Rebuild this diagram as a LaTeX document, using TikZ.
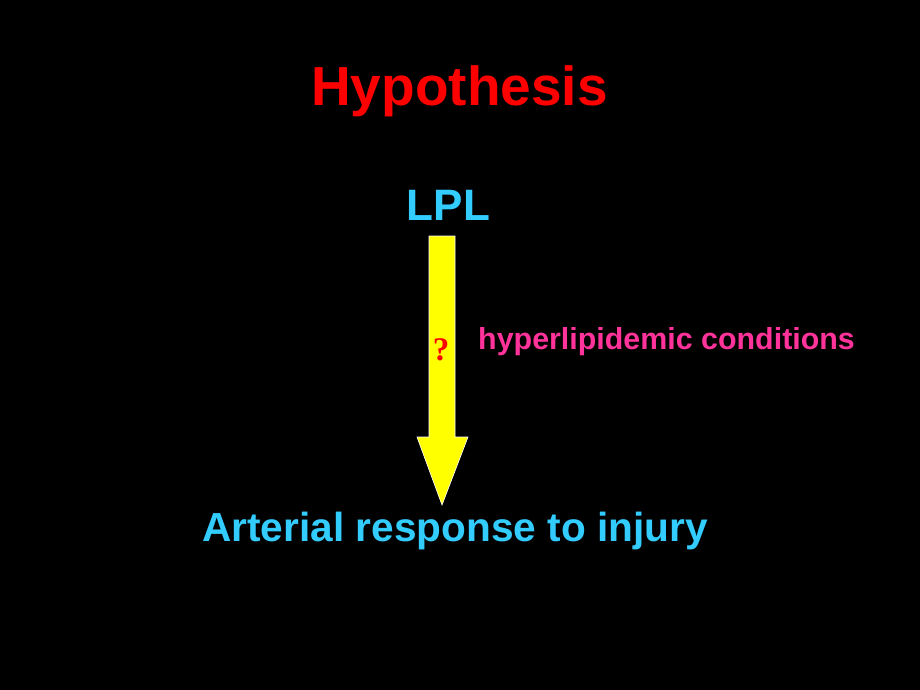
\documentclass[tikz,border=0pt]{standalone}
\usepackage{fontspec}
\setmainfont{Liberation Sans}
\newfontfamily\qfont{Liberation Serif}
\definecolor{titlered}{HTML}{FF0000}
\definecolor{lplcyan}{HTML}{33CCFF}
\definecolor{pinktext}{HTML}{FF3399}
\definecolor{arrowyellow}{HTML}{FFFF00}
\begin{document}
\begin{tikzpicture}[x=1pt,y=-1pt,
  lbl/.style={inner sep=0pt, font=\bfseries},
]
\fill[black] (0,0) rectangle (920,690);
\useasboundingbox (0,0) rectangle (920,690);
\node[lbl, text=titlered, anchor=base, font=\fontsize{55}{60}\selectfont\bfseries] (title) at (459.5,106) {Hypothesis};
\node[lbl, text=lplcyan, anchor=base, font=\fontsize{44}{50}\selectfont\bfseries] (lpl) at (448.5,220) {LPL};
\node[lbl, text=lplcyan, anchor=base, font=\fontsize{40.6}{46}\selectfont\bfseries] (resp) at (455,541) {Arterial response to injury};
\draw[white, line width=0.6pt, fill=arrowyellow]
  (429,236) -- (455,236) -- (455,437) -- (468,437) -- (442,505) -- (417,437) -- (429,437) -- cycle;
\node[inner sep=0pt, text=titlered, anchor=base, font=\fontsize{33}{40}\selectfont\qfont\bfseries] (q) at (441,360) {?};
\node[lbl, text=pinktext, anchor=base west, font=\fontsize{30.4}{36}\selectfont\bfseries] (cond) at (478,349) {hyperlipidemic conditions};
\end{tikzpicture}
\end{document}
